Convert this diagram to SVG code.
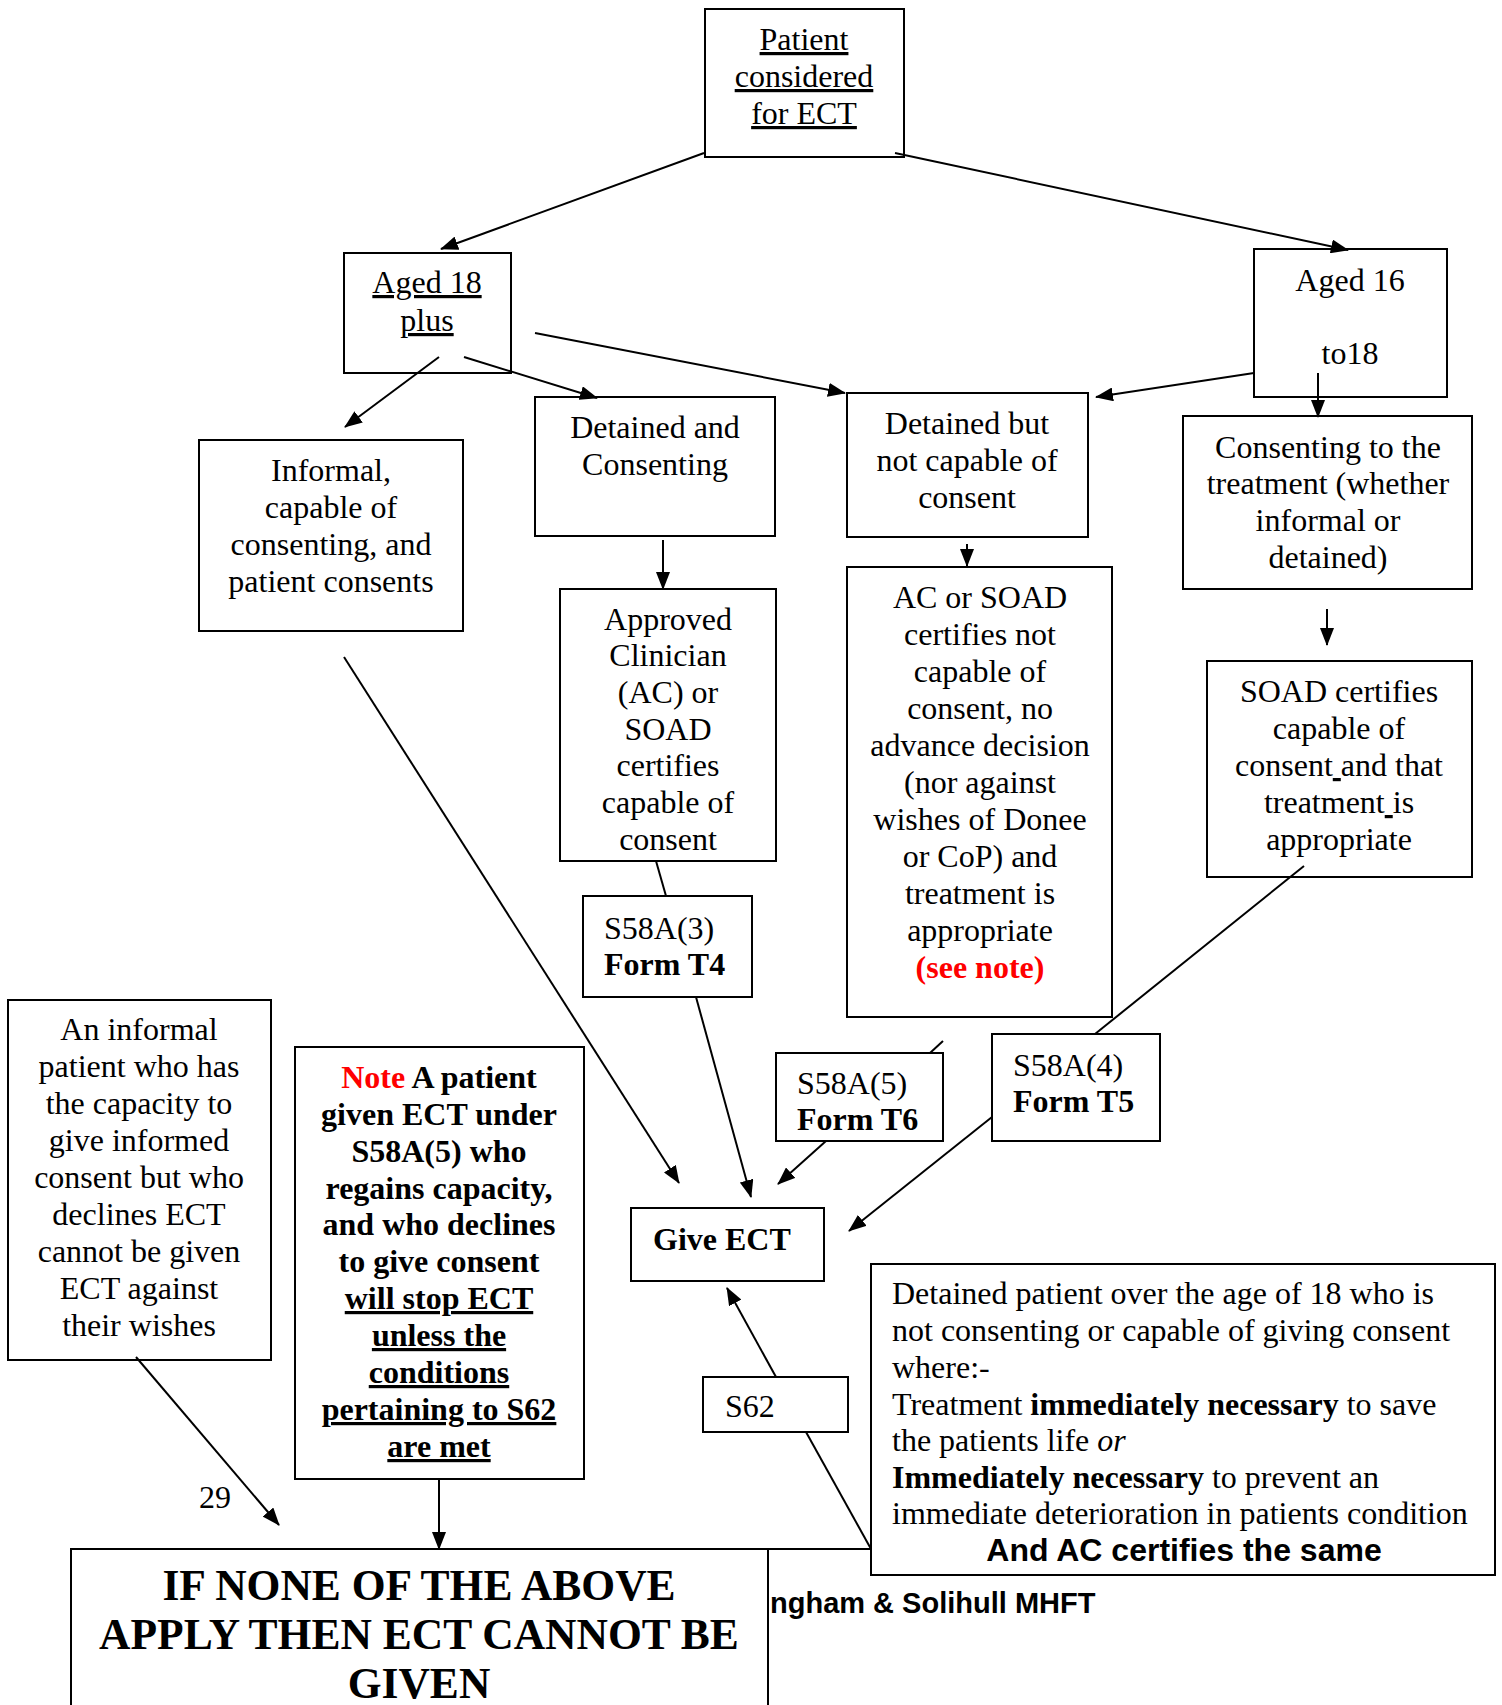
<svg xmlns="http://www.w3.org/2000/svg" width="1502" height="1705" viewBox="0 0 1502 1705">
<style>
.box{fill:#fff;stroke:#000;stroke-width:2}
.t{font-family:"Liberation Serif","Times New Roman",serif;font-size:32px;fill:#000}
.c{text-anchor:middle}
.b{font-weight:bold}
.u{text-decoration:underline}
.red{fill:#ff0000}
.sans{font-family:"Liberation Sans",Arial,sans-serif}
.ln{fill:none;stroke:#000;stroke-width:2}
.ar{marker-end:url(#ah)}
</style>
<defs>
<marker id="ah" markerWidth="18" markerHeight="14" refX="17" refY="7" orient="auto" markerUnits="userSpaceOnUse">
<path d="M0,0 L18,7 L0,14 z" fill="#000"/>
</marker>
</defs>
<rect width="1502" height="1705" fill="#fff"/>

<g id="footer">
<text class="t sans b" x="770" y="1613" style="font-size:29px">ngham &amp; Solihull MHFT</text>
<text class="t c" x="215" y="1508">29</text>
</g>

<g id="n-patient">
<rect class="box" x="705" y="9" width="199" height="148"/>
<text class="t c u" x="804"><tspan x="804" y="50">Patient</tspan><tspan x="804" y="87">considered</tspan><tspan x="804" y="124">for ECT</tspan></text>
</g>

<g id="n-aged18">
<rect class="box" x="344" y="253" width="167" height="120"/>
<text class="t c u" x="427"><tspan x="427" y="293">Aged 18</tspan><tspan x="427" y="331">plus</tspan></text>
</g>

<g id="n-aged16">
<rect class="box" x="1254" y="249" width="193" height="148"/>
<text class="t c" x="1350"><tspan x="1350" y="291">Aged 16</tspan><tspan x="1350" y="364">to18</tspan></text>
</g>

<g id="n-informal">
<rect class="box" x="199" y="440" width="264" height="191"/>
<text class="t c"><tspan x="331" y="481">Informal,</tspan><tspan x="331" y="518">capable of</tspan><tspan x="331" y="555">consenting, and</tspan><tspan x="331" y="592">patient consents</tspan></text>
</g>

<g id="n-detcons">
<rect class="box" x="535" y="397" width="240" height="139"/>
<text class="t c"><tspan x="655" y="438">Detained and</tspan><tspan x="655" y="475">Consenting</tspan></text>
</g>

<g id="n-detnot">
<rect class="box" x="847" y="393" width="241" height="144"/>
<text class="t c"><tspan x="967" y="434">Detained but</tspan><tspan x="967" y="471">not capable of</tspan><tspan x="967" y="508">consent</tspan></text>
</g>

<g id="n-consenting16">
<rect class="box" x="1183" y="416" width="289" height="173"/>
<text class="t c"><tspan x="1328" y="458">Consenting to the</tspan><tspan x="1328" y="494">treatment (whether</tspan><tspan x="1328" y="531">informal or</tspan><tspan x="1328" y="568">detained)</tspan></text>
</g>

<g id="n-approved">
<rect class="box" x="560" y="589" width="216" height="272"/>
<text class="t c"><tspan x="668" y="630">Approved</tspan><tspan x="668" y="666">Clinician</tspan><tspan x="668" y="703">(AC) or</tspan><tspan x="668" y="740">SOAD</tspan><tspan x="668" y="776">certifies</tspan><tspan x="668" y="813">capable of</tspan><tspan x="668" y="850">consent</tspan></text>
</g>

<g id="n-acsoad">
<rect class="box" x="847" y="567" width="265" height="450"/>
<text class="t c"><tspan x="980" y="608">AC or SOAD</tspan><tspan x="980" y="645">certifies not</tspan><tspan x="980" y="682">capable of</tspan><tspan x="980" y="719">consent, no</tspan><tspan x="980" y="756">advance decision</tspan><tspan x="980" y="793">(nor against</tspan><tspan x="980" y="830">wishes of Donee</tspan><tspan x="980" y="867">or CoP) and</tspan><tspan x="980" y="904">treatment is</tspan><tspan x="980" y="941">appropriate</tspan><tspan x="980" y="978" class="b red">(see note)</tspan></text>
</g>

<g id="n-soadcert">
<rect class="box" x="1207" y="661" width="265" height="216"/>
<text class="t c"><tspan x="1339" y="702">SOAD certifies</tspan><tspan x="1339" y="739">capable of</tspan><tspan x="1339" y="776">consent<tspan class="u"> </tspan>and that</tspan><tspan x="1339" y="813">treatment<tspan class="u"> </tspan>is</tspan><tspan x="1339" y="850">appropriate</tspan></text>
</g>

<g id="n-s58a3">
<rect class="box" x="583" y="896" width="169" height="101"/>
<text class="t"><tspan x="604" y="939">S58A(3)</tspan><tspan x="604" y="975" class="b">Form T4</tspan></text>
</g>

<g id="n-s58a5">
<rect class="box" x="776" y="1053" width="167" height="88"/>
<text class="t"><tspan x="797" y="1094">S58A(5)</tspan><tspan x="797" y="1130" class="b">Form T6</tspan></text>
</g>

<g id="n-s58a4">
<rect class="box" x="992" y="1034" width="168" height="107"/>
<text class="t"><tspan x="1013" y="1076">S58A(4)</tspan><tspan x="1013" y="1112" class="b">Form T5</tspan></text>
</g>

<g id="n-giveect">
<rect class="box" x="631" y="1208" width="193" height="73"/>
<text class="t b" x="653" y="1250">Give ECT</text>
</g>

<g id="n-s62">
<rect class="box" x="703" y="1377" width="145" height="55"/>
<text class="t" x="725" y="1417">S62</text>
</g>

<g id="n-informaldecline">
<rect class="box" x="8" y="1000" width="263" height="360"/>
<text class="t c"><tspan x="139" y="1040">An informal</tspan><tspan x="139" y="1077">patient who has</tspan><tspan x="139" y="1114">the capacity to</tspan><tspan x="139" y="1151">give informed</tspan><tspan x="139" y="1188">consent but who</tspan><tspan x="139" y="1225">declines ECT</tspan><tspan x="139" y="1262">cannot be given</tspan><tspan x="139" y="1299">ECT against</tspan><tspan x="139" y="1336">their wishes</tspan></text>
</g>

<g id="n-note">
<rect class="box" x="295" y="1047" width="289" height="432"/>
<text class="t c b"><tspan x="439" y="1088"><tspan class="red">Note</tspan> A patient</tspan><tspan x="439" y="1125">given ECT under</tspan><tspan x="439" y="1162">S58A(5) who</tspan><tspan x="439" y="1199">regains capacity,</tspan><tspan x="439" y="1235">and who declines</tspan><tspan x="439" y="1272">to give consent</tspan><tspan x="439" y="1309" class="u">will stop ECT</tspan><tspan x="439" y="1346" class="u">unless the</tspan><tspan x="439" y="1383" class="u">conditions</tspan><tspan x="439" y="1420" class="u">pertaining to S62</tspan><tspan x="439" y="1457" class="u">are met</tspan></text>
</g>

<g id="n-s62cond">
<rect class="box" x="871" y="1264" width="624" height="311"/>
<text class="t"><tspan x="892" y="1304">Detained patient over the age of 18 who is</tspan><tspan x="892" y="1341">not consenting or capable of giving consent</tspan><tspan x="892" y="1378">where:-</tspan><tspan x="892" y="1415">Treatment <tspan class="b">immediately necessary</tspan> to save</tspan><tspan x="892" y="1451">the patients life <tspan style="font-style:italic">or</tspan></tspan><tspan x="892" y="1488"><tspan class="b">Immediately necessary</tspan> to prevent an</tspan><tspan x="892" y="1524">immediate deterioration in patients condition</tspan></text>
<text class="t sans b c" x="1184" y="1561">And AC certifies the same</text>
</g>

<g id="n-ifnone">
<rect class="box" x="71" y="1549" width="697" height="180"/>
<text class="t c b" style="font-size:43.5px"><tspan x="419" y="1600">IF NONE OF THE ABOVE</tspan><tspan x="419" y="1649">APPLY THEN ECT CANNOT BE</tspan><tspan x="419" y="1698">GIVEN</tspan></text>
</g>

<g id="connectors">
<path class="ln ar" d="M704,153 L441,249"/>
<path class="ln ar" d="M895,153 L1348,250"/>
<path class="ln ar" d="M439,357 L345,427"/>
<path class="ln ar" d="M464,357 L597,398"/>
<path class="ln ar" d="M535,333 L845,393"/>
<path class="ln ar" d="M1254,373 L1096,397"/>
<path class="ln ar" d="M1318,373 L1318,417"/>
<path class="ln ar" d="M663,540 L663,589"/>
<path class="ln ar" d="M967,544 L967,566"/>
<path class="ln ar" d="M1327,609 L1327,645"/>
<path class="ln" d="M656,861 L666,896"/>
<path class="ln ar" d="M696,997 L751,1197"/>
<path class="ln ar" d="M344,657 L679,1183"/>
<path class="ln" d="M943,1041 L930,1053"/>
<path class="ln ar" d="M826,1141 L778,1184"/>
<path class="ln" d="M1304,866 L1095,1034"/>
<path class="ln ar" d="M992,1117 L849,1231"/>
<path class="ln ar" d="M776,1377 L727,1288"/>
<path class="ln" d="M871,1549 L806,1432"/>
<path class="ln" d="M768,1549 L871,1549"/>
<path class="ln ar" d="M136,1357 L279,1525"/>
<path class="ln ar" d="M439,1479 L439,1549"/>
</g>
</svg>
